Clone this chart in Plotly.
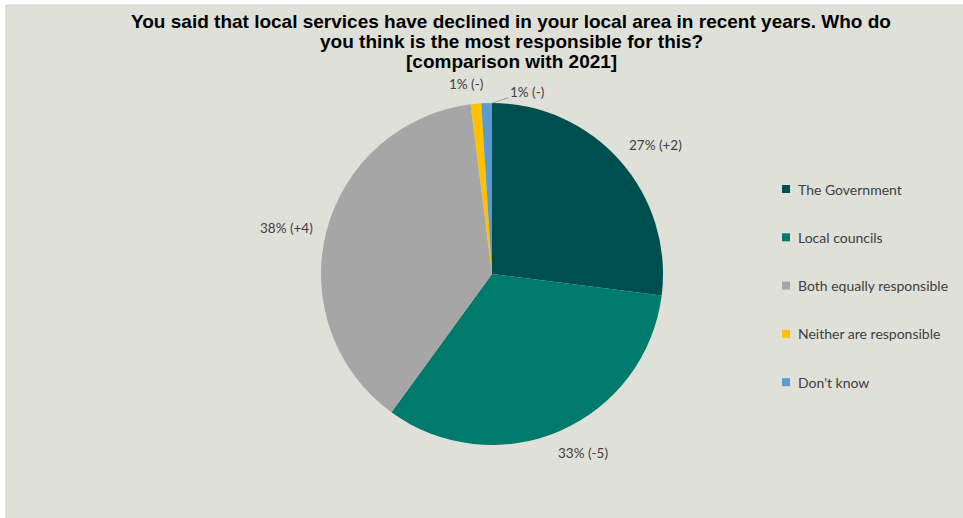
import math
import plotly.graph_objects as go

# Survey responses (share of respondents, %) and change vs 2021
categories = ["The Government", "Local councils", "Both equally responsible",
              "Neither are responsible", "Don't know"]
shares = [27, 33, 38, 1, 1]
changes = ["+2", "-5", "+4", "-", "-"]
colors = ["#004f4f", "#007a6c", "#a6a6a6", "#ffc000", "#5b9bd5"]
title_lines = [
    "You said that local services have declined in your local area in recent years. Who do",
    "you think is the most responsible for this?",
    "[comparison with 2021]",
]

W, H = 963, 518
BG = "#dfe0d8"
TXT = "#404040"
LABEL_FONT = dict(family="Lato", size=13.5, color=TXT)

# pie geometry in pixels
cx, cy, R = 492, 274, 171
label_r = 1.15
# small per-label nudges (px) applied after the radial placement
nudges = [(16, 1), (13, -1), (-15, 3), (-7, 6), None]


def px_to_paper(x, y):
    return x / W, 1 - y / H


fig = go.Figure()
fig.add_trace(go.Pie(
    labels=categories,
    values=shares,
    sort=False,
    direction="clockwise",
    rotation=0,
    marker=dict(colors=colors, line=dict(width=0)),
    textinfo="none",
    hoverinfo="label+percent",
    showlegend=False,
    domain=dict(x=[(cx - R) / W, (cx + R) / W],
                y=[1 - (cy + R) / H, 1 - (cy - R) / H]),
))

annotations = []
shapes = [dict(type="rect", xref="paper", yref="paper", layer="below",
               x0=6 / W, x1=1.01, y0=-0.01, y1=1 - 5 / H,
               fillcolor=BG, line=dict(color="#cfcfcf", width=1))]

# title, one annotation per line for tight line spacing
for i, line in enumerate(title_lines):
    x, y = px_to_paper(511, 21 + 20.5 * i)
    annotations.append(dict(x=x, y=y, xref="paper", yref="paper", text=f"<b>{line}</b>",
                            showarrow=False, xanchor="center", yanchor="middle",
                            font=dict(family="Liberation Sans", size=19, color="black")))

# data labels placed around the pie from the slice mid-angles
total = sum(shares)
cum = 0
for v, ch, nd in zip(shares, changes, nudges):
    mid = (cum + v / 2) / total * 2 * math.pi
    cum += v
    text = f"{v}% ({ch})"
    if nd is not None:
        lx = cx + label_r * R * math.sin(mid) + nd[0]
        ly = cy - label_r * R * math.cos(mid) + nd[1]
        x, y = px_to_paper(lx, ly)
        annotations.append(dict(x=x, y=y, xref="paper", yref="paper", text=text,
                                xanchor="center", yanchor="middle",
                                showarrow=False, font=LABEL_FONT))
    else:
        # thin slice: label pulled aside with a leader line
        ex = cx + 0.99 * R * math.sin(mid)
        ey = cy - 0.99 * R * math.cos(mid)
        x, y = px_to_paper(ex, ey)
        annotations.append(dict(x=x, y=y, xref="paper", yref="paper", text=text,
                                xanchor="center", yanchor="middle",
                                showarrow=True, arrowhead=0, arrowwidth=1, arrowcolor="#a0a0a0",
                                ax=40, ay=-13, standoff=0, font=LABEL_FONT))

# legend: small square swatches with labels
for i, (c, col) in enumerate(zip(categories, colors)):
    ly = 189 + 48.3 * i
    x0, y0 = px_to_paper(782, ly - 4)
    x1, y1 = px_to_paper(790, ly + 4)
    shapes.append(dict(type="rect", xref="paper", yref="paper", x0=x0, x1=x1, y0=y1, y1=y0,
                       fillcolor=col, line=dict(width=0)))
    tx, ty = px_to_paper(796, ly)
    annotations.append(dict(x=tx, y=ty, xref="paper", yref="paper", text=c,
                            xanchor="left", yanchor="middle", showarrow=False,
                            font=dict(family="Lato", size=14, color=TXT)))

fig.update_layout(
    width=W, height=H,
    margin=dict(l=0, r=0, t=0, b=0),
    paper_bgcolor="white",
    annotations=annotations,
    shapes=shapes,
)

fig.write_html("out.html")
